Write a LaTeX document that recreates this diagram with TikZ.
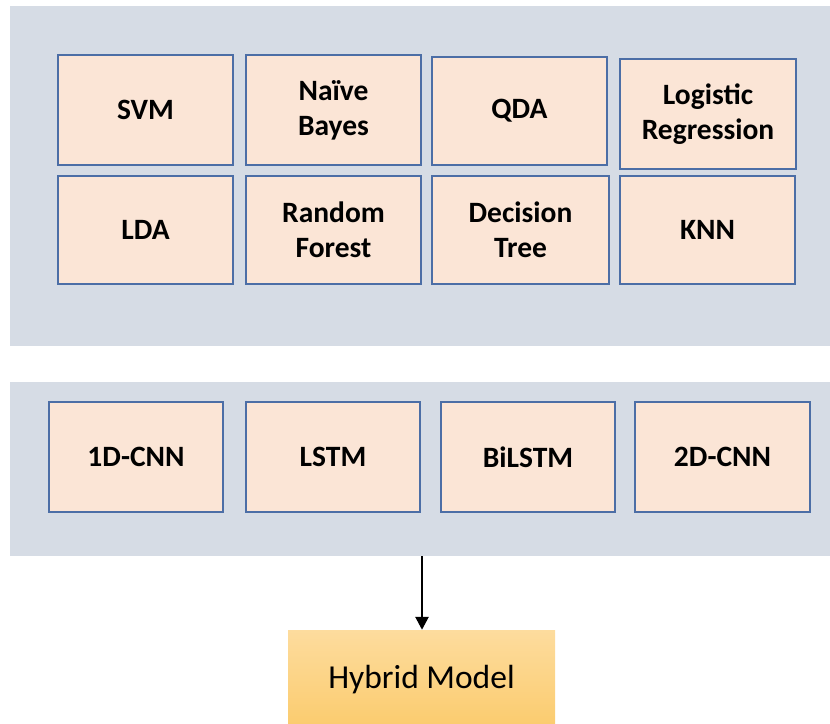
\documentclass[tikz,border=0pt]{standalone}
\usepackage{fontspec}
\setmainfont{Carlito}
\usetikzlibrary{arrows.meta}
\definecolor{panelbg}{HTML}{D6DCE5}
\definecolor{boxfill}{HTML}{FBE5D6}
\definecolor{boxline}{HTML}{4C6EA6}
\definecolor{hybtop}{HTML}{FDDC9E}
\definecolor{hybbot}{HTML}{FBCB6C}
\begin{document}
\begin{tikzpicture}[x=1pt,y=-1pt,
  panel/.style={fill=panelbg,draw=none},
  mbox/.style={draw=boxline,line width=1.8pt,fill=boxfill,align=center,
    font=\fontsize{29.5}{35}\selectfont\bfseries,inner sep=0pt},
  hyb/.style={top color=hybtop,bottom color=hybbot,draw=none,
    font=\fontsize{33.5}{38}\selectfont,inner sep=0pt},
  arr/.style={-{Triangle[length=13pt,width=13pt]},line width=2.6pt,black}]
\useasboundingbox (0,0) rectangle (830,723);
\fill[panel] (10,6) rectangle (830,346);
\fill[panel] (10,382) rectangle (830,556);
% row 1
\node[mbox,minimum width=175pt,minimum height=110pt] (svm) at (145.5,110) {SVM};
\node[mbox,minimum width=175pt,minimum height=110pt] (nb) at (333.5,110) {Naïve\\Bayes};
\node[mbox,minimum width=175pt,minimum height=108pt] (qda) at (519.5,111) {QDA};
\node[mbox,minimum width=176pt,minimum height=110pt] (lr) at (708,114) {Logistic\\Regression};
% row 2
\node[mbox,minimum width=175pt,minimum height=108pt] (lda) at (145.5,230) {LDA};
\node[mbox,minimum width=175pt,minimum height=108pt] (rf) at (333.5,230) {Random\\Forest};
\node[mbox,minimum width=177pt,minimum height=108pt] (dt) at (520.5,230) {Decision\\Tree};
\node[mbox,minimum width=175pt,minimum height=108pt] (knn) at (707.5,230) {KNN};
% deep learning row
\node[mbox,minimum width=174pt,minimum height=110pt] (cnn1) at (136,457) {1D-CNN};
\node[mbox,minimum width=174pt,minimum height=110pt] (lstm) at (333,457) {LSTM};
\node[mbox,minimum width=174pt,minimum height=110pt] (bilstm) at (528,457) {BiLSTM};
\node[mbox,minimum width=175pt,minimum height=110pt] (cnn2) at (722.5,457) {2D-CNN};
% hybrid
\node[hyb,minimum width=267pt,minimum height=100pt] (hyb) at (421.5,680) {Hybrid Model};
\coordinate (src) at (422,556);
\draw[arr] (src) -- (hyb.north -| src);
\end{tikzpicture}
\end{document}
